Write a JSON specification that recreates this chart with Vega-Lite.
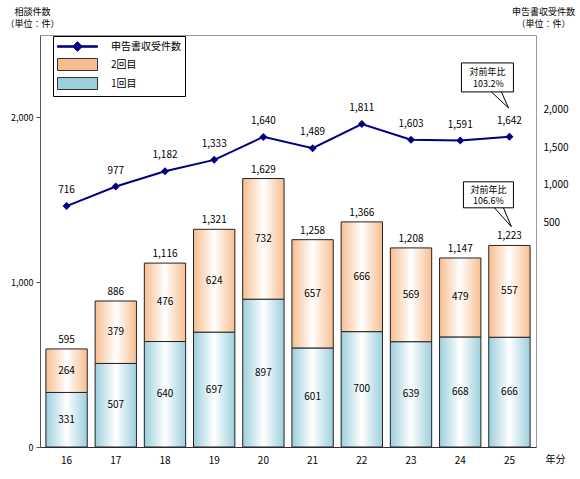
{
  "$schema": "https://vega.github.io/schema/vega-lite/v6.json",
  "width": 496,
  "height": 412,
  "autosize": "none",
  "padding": {"left": 40, "top": 35, "right": 44, "bottom": 32},
  "background": "white",
  "config": {
    "font": "Noto Sans CJK JP",
    "view": {"stroke": "#999", "strokeWidth": 1},
    "axis": {"grid": false, "labelFont": "Noto Sans CJK JP", "titleFont": "Noto Sans CJK JP", "labelColor": "#000", "titleColor": "#000", "titleFontWeight": "normal"},
    "text": {"font": "Noto Sans CJK JP", "fontSize": 10, "color": "#000"}
  },
  "datasets": {
    "main": [
      {"year": "16", "first": 331, "second": 264, "total": 595, "filings": 716},
      {"year": "17", "first": 507, "second": 379, "total": 886, "filings": 977},
      {"year": "18", "first": 640, "second": 476, "total": 1116, "filings": 1182},
      {"year": "19", "first": 697, "second": 624, "total": 1321, "filings": 1333},
      {"year": "20", "first": 897, "second": 732, "total": 1629, "filings": 1640},
      {"year": "21", "first": 601, "second": 657, "total": 1258, "filings": 1489},
      {"year": "22", "first": 700, "second": 666, "total": 1366, "filings": 1811},
      {"year": "23", "first": 639, "second": 569, "total": 1208, "filings": 1603},
      {"year": "24", "first": 668, "second": 479, "total": 1147, "filings": 1591},
      {"year": "25", "first": 666, "second": 557, "total": 1223, "filings": 1642}
    ],
    "legend": [{"series": "申告書収受件数"}, {"series": "2回目"}, {"series": "1回目"}]
  },
  "layer": [
    {
      "data": {"name": "main"},
      "encoding": {
        "x": {
          "field": "year", "type": "ordinal",
          "scale": {"domain": ["16","17","18","19","20","21","22","23","24","25"], "paddingInner": 0.16, "paddingOuter": 0.12},
          "axis": {"labelAngle": 0, "labelFontSize": 10, "ticks": false, "labelPadding": 8, "domainColor": "#333", "title": "年分", "titleFontSize": 10, "titleX": 515, "titleY": 12, "titleAlign": "center", "titleBaseline": "middle", "titleAngle": 0}
        }
      },
      "layer": [
        {
          "mark": {"type": "bar", "stroke": "#222", "strokeWidth": 1,
            "fill": {"gradient": "linear", "x1": 0, "y1": 0, "x2": 1, "y2": 0, "stops": [{"offset": 0, "color": "#9CCFDD"}, {"offset": 0.5, "color": "#FFFFFF"}, {"offset": 1, "color": "#9CCFDD"}]}},
          "encoding": {
            "y": {"field": "first", "type": "quantitative", "scale": {"domain": [0, 2500], "nice": false},
              "axis": {"orient": "left", "values": [0, 1000, 2000], "format": ",.0f", "labelFontSize": 9, "tickSize": 4, "labelPadding": 3, "domainColor": "#555", "tickColor": "#555",
                "title": ["相談件数", "（単位：件）"], "titleAngle": 0, "titleAlign": "center", "titleBaseline": "middle", "titleX": -8, "titleY": -24, "titleFontSize": 9, "titleLineHeight": 12}}
          }
        },
        {
          "mark": {"type": "bar", "stroke": "#222", "strokeWidth": 1,
            "fill": {"gradient": "linear", "x1": 0, "y1": 0, "x2": 1, "y2": 0, "stops": [{"offset": 0, "color": "#F8BD90"}, {"offset": 0.5, "color": "#FFFFFF"}, {"offset": 1, "color": "#F8BD90"}]}},
          "encoding": {
            "y": {"field": "first", "type": "quantitative"},
            "y2": {"field": "total"}
          }
        },
        {
          "mark": {"type": "text", "dy": -9},
          "encoding": {
            "y": {"field": "total", "type": "quantitative"},
            "text": {"field": "total", "type": "quantitative", "format": ",.0f"}
          }
        },
        {
          "transform": [
            {"fold": ["first", "second"], "as": ["series", "value"]},
            {"stack": "value", "groupby": ["year"], "sort": [{"field": "series", "order": "ascending"}], "as": ["v0", "v1"]},
            {"fold": ["v0", "v1"], "as": ["edge", "pos"]},
            {"aggregate": [{"op": "mean", "field": "pos", "as": "mid"}], "groupby": ["year", "series", "value"]}
          ],
          "mark": {"type": "text"},
          "encoding": {
            "y": {"field": "mid", "type": "quantitative"},
            "text": {"field": "value", "type": "quantitative"}
          }
        }
      ]
    },
    {
      "data": {"name": "main"},
      "encoding": {
        "x": {
          "field": "year", "type": "ordinal",
          "axis": {"labelAngle": 0, "labelFontSize": 10, "ticks": false, "labelPadding": 8, "domainColor": "#333", "title": "年分", "titleFontSize": 10, "titleX": 515, "titleY": 12, "titleAlign": "center", "titleBaseline": "middle", "titleAngle": 0}
        }
      },
      "layer": [
        {
          "mark": {"type": "line", "color": "#000080", "strokeWidth": 2},
          "encoding": {
            "y": {"field": "filings", "type": "quantitative", "scale": {"domain": [-2500, 3000], "nice": false},
              "axis": {"orient": "right", "values": [500, 1000, 1500, 2000], "format": ",.0f", "labelFontSize": 10, "ticks": false, "tickSize": 0, "domain": false, "labelPadding": 7,
                "title": ["申告書収受件数", "（単位：件）"], "titleAngle": 0, "titleAlign": "center", "titleBaseline": "middle", "titleX": 7, "titleY": -24, "titleFontSize": 9, "titleLineHeight": 12}}
          }
        },
        {
          "mark": {"type": "point", "shape": "diamond", "filled": true, "color": "#000080", "size": 64, "opacity": 1},
          "encoding": {"y": {"field": "filings", "type": "quantitative"}}
        },
        {
          "mark": {"type": "text", "dy": -16},
          "encoding": {
            "y": {"field": "filings", "type": "quantitative"},
            "text": {"field": "filings", "type": "quantitative", "format": ",.0f"}
          }
        },
        {
          "data": {"values": [{}]},
          "mark": {"type": "bar", "fill": "white", "stroke": "#000", "strokeWidth": 1, "width": 52, "xOffset": -22},
          "encoding": {"x": {"datum": "25"}, "y": {"datum": 2627}, "y2": {"datum": 2240}}
        },
        {
          "data": {"values": [{}]},
          "mark": {"type": "rule", "color": "#000", "xOffset": -18, "x2Offset": -1},
          "encoding": {"x": {"datum": "25"}, "x2": {"datum": "25"}, "y": {"datum": 2240}, "y2": {"datum": 2027}}
        },
        {
          "data": {"values": [{}]},
          "mark": {"type": "rule", "color": "#000", "xOffset": -8, "x2Offset": -1},
          "encoding": {"x": {"datum": "25"}, "x2": {"datum": "25"}, "y": {"datum": 2240}, "y2": {"datum": 2027}}
        },
        {
          "data": {"values": [{}]},
          "mark": {"type": "text", "text": "対前年比", "xOffset": -22, "fontSize": 9},
          "encoding": {"x": {"datum": "25"}, "y": {"datum": 2507}}
        },
        {
          "data": {"values": [{}]},
          "mark": {"type": "text", "text": "103.2%", "xOffset": -21, "fontSize": 9},
          "encoding": {"x": {"datum": "25"}, "y": {"datum": 2347}}
        },
        {
          "data": {"values": [{}]},
          "mark": {"type": "bar", "fill": "white", "stroke": "#000", "strokeWidth": 1, "width": 50, "xOffset": -21},
          "encoding": {"x": {"datum": "25"}, "y": {"datum": 1040}, "y2": {"datum": 693}}
        },
        {
          "data": {"values": [{}]},
          "mark": {"type": "rule", "color": "#000", "xOffset": -15, "x2Offset": 2},
          "encoding": {"x": {"datum": "25"}, "x2": {"datum": "25"}, "y": {"datum": 693}, "y2": {"datum": 440}}
        },
        {
          "data": {"values": [{}]},
          "mark": {"type": "rule", "color": "#000", "xOffset": -6, "x2Offset": 2},
          "encoding": {"x": {"datum": "25"}, "x2": {"datum": "25"}, "y": {"datum": 693}, "y2": {"datum": 440}}
        },
        {
          "data": {"values": [{}]},
          "mark": {"type": "text", "text": "対前年比", "xOffset": -21, "fontSize": 9},
          "encoding": {"x": {"datum": "25"}, "y": {"datum": 933}}
        },
        {
          "data": {"values": [{}]},
          "mark": {"type": "text", "text": "106.6%", "xOffset": -21, "fontSize": 9},
          "encoding": {"x": {"datum": "25"}, "y": {"datum": 780}}
        }
      ]
    },
    {
      "data": {"name": "legend"},
      "mark": {"type": "point", "filled": true, "opacity": 0},
      "encoding": {
        "fill": {
          "field": "series", "type": "nominal",
          "scale": {"domain": ["申告書収受件数", "2回目", "1回目"], "range": ["#000080", "#F8BC90", "#9CCFDD"]},
          "legend": {"title": null, "orient": "none", "legendX": 13, "legendY": 1, "padding": 4, "strokeColor": "#000", "fillColor": "#fff", "symbolSize": 144, "labelOffset": 41, "rowPadding": 2, "labelFontSize": 10, "labelFont": "Noto Sans CJK JP", "labelColor": "#000", "symbolStrokeWidth": 1, "symbolOpacity": 1, "labelLimit": 200,
            "encode": {"symbols": {"update": {"opacity": {"value": 1}}}}}
        },
        "shape": {
          "field": "series", "type": "nominal",
          "scale": {"domain": ["申告書収受件数", "2回目", "1回目"],
            "range": ["M-1,-0.12H5.67V0.12H-1ZM2.33,-0.8L3.13,0L2.33,0.8L1.53,0Z", "M-1,-1H5.67V1H-1Z", "M-1,-1H5.67V1H-1Z"]},
          "legend": {"title": null, "orient": "none", "legendX": 13, "legendY": 1, "padding": 4, "strokeColor": "#000", "fillColor": "#fff", "symbolSize": 144, "labelOffset": 41, "rowPadding": 2, "labelFontSize": 10, "labelFont": "Noto Sans CJK JP", "labelColor": "#000", "symbolStrokeWidth": 1, "symbolOpacity": 1, "labelLimit": 200,
            "encode": {"symbols": {"update": {"opacity": {"value": 1}}}}}
        },
        "stroke": {
          "field": "series", "type": "nominal",
          "scale": {"domain": ["申告書収受件数", "2回目", "1回目"], "range": ["#000080", "#333333", "#333333"]},
          "legend": {"title": null, "orient": "none", "legendX": 13, "legendY": 1, "padding": 4, "strokeColor": "#000", "fillColor": "#fff", "symbolSize": 144, "labelOffset": 41, "rowPadding": 2, "labelFontSize": 10, "labelFont": "Noto Sans CJK JP", "labelColor": "#000", "symbolStrokeWidth": 1, "symbolOpacity": 1, "labelLimit": 200,
            "encode": {"symbols": {"update": {"opacity": {"value": 1}}}}}
        }
      }
    }
  ],
  "resolve": {"scale": {"y": "independent"}}
}
